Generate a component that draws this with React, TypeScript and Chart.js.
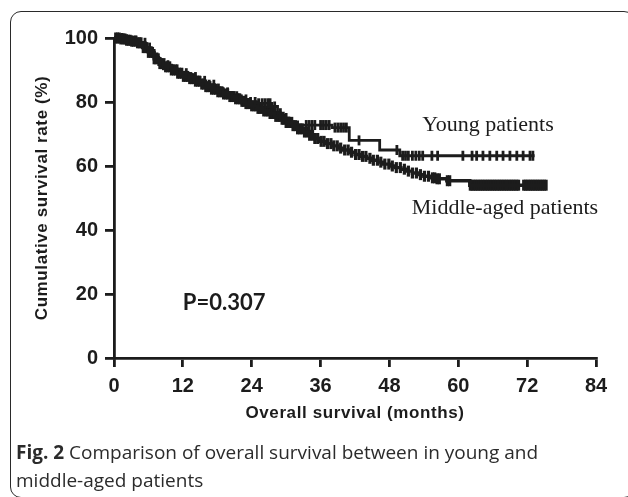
import React, { useEffect, useRef } from "react";
import { Chart, registerables } from "chart.js";

Chart.register(...registerables);

// Kaplan-Meier step events: time (months) and cumulative survival (%)
const youngTimes = [0, 1.5, 3, 4.5, 5.5, 6.5, 7.5, 8.5, 10, 11.5, 13, 14.5, 16, 17.5, 19, 20.5, 22, 23.5, 25, 27.5, 28.5, 29.5, 30.5, 32, 38, 41, 46.3, 49.8, 73.3];
const youngSurv = [100, 99.6, 99.2, 98.5, 97, 95, 92.8, 91.5, 90.2, 89, 87.8, 86.6, 85.4, 84.2, 83, 81.8, 80.8, 80, 79.6, 78.6, 76.5, 75, 73.8, 72.8, 72, 68, 65, 63.2, 63.2];
const youngCensored = [0.6, 1.4, 2.2, 3.0, 3.8, 4.6, 5.4, 6.2, 7.0, 7.8, 8.6, 9.4, 10.2, 11.0, 11.8, 12.6, 13.4, 14.2, 15.0, 15.8, 16.6, 17.4, 18.2, 19.0, 19.8, 20.6, 21.4, 22.2, 23.0, 23.8, 24.6, 25.2, 25.8, 26.3, 26.8, 27.2, 28.0, 29.0, 30.0, 31.0, 33.5, 34.0, 34.5, 35.0, 36.0, 36.5, 37.0, 37.5, 38.5, 39.0, 39.5, 40.0, 40.5, 42.7, 49.3, 50.3, 50.8, 51.3, 52.0, 52.6, 53.2, 53.8, 55.4, 56.4, 60.8, 62.4, 63.2, 64.3, 65.5, 66.7, 67.8, 69.0, 70.2, 71.3, 72.5, 73.0];

const middleTimes = [0, 1, 2, 3, 4, 5, 6, 7, 8, 9, 10, 11, 12, 13, 14, 15, 16, 17, 18, 19, 20, 21, 22, 23, 24, 25, 26, 27, 28, 29, 30, 31, 32, 33, 34, 35, 36, 37, 38, 39, 40, 41, 42, 43, 44, 45, 46, 47, 48, 49, 50, 51, 52, 53, 54, 55, 56, 58, 62, 75.3];
const middleSurv = [100, 99.7, 99.3, 99, 98.5, 97, 95.5, 93.5, 92, 91, 90, 89, 88, 87.3, 86.5, 85.6, 84.8, 84, 83.2, 82.5, 81.7, 81, 80.2, 79.5, 78.8, 78, 77.2, 76.4, 75.5, 74.6, 73.6, 72.6, 71.6, 70.6, 69.6, 68.6, 67.7, 67, 66.3, 65.6, 65, 64.3, 63.6, 63, 62.4, 61.8, 61.2, 60.6, 60, 59.5, 59, 58.4, 57.8, 57.3, 56.8, 56.3, 56, 55.4, 54, 54];
const middleCensored = [0.3, 0.6, 0.9, 1.2, 1.6, 1.9, 2.2, 2.5, 2.8, 3.1, 3.4, 3.8, 4.1, 4.4, 4.7, 5.1, 5.4, 5.7, 6.0, 6.4, 6.7, 7.0, 7.3, 7.7, 8.0, 8.3, 8.7, 9.0, 9.3, 9.7, 10.0, 10.4, 10.7, 11.1, 11.4, 11.8, 12.1, 12.5, 12.8, 13.2, 13.5, 13.9, 14.2, 14.6, 14.9, 15.3, 15.6, 16.0, 16.3, 16.7, 17.0, 17.4, 17.7, 18.1, 18.4, 18.8, 19.1, 19.5, 19.8, 20.2, 20.5, 20.9, 21.2, 21.6, 21.9, 22.3, 22.6, 23.0, 23.3, 23.7, 24.0, 24.4, 24.7, 25.1, 25.4, 25.8, 26.1, 26.5, 26.8, 27.2, 27.5, 27.9, 28.2, 28.6, 28.9, 29.3, 29.6, 30.0, 30.4, 30.8, 31.2, 31.6, 32.0, 32.4, 32.8, 33.2, 33.7, 34.1, 34.6, 35.0, 35.5, 36.1, 36.6, 37.2, 37.8, 38.3, 38.9, 39.5, 40.2, 40.8, 41.4, 42.1, 42.7, 43.3, 43.9, 44.6, 45.2, 45.9, 46.5, 47.2, 47.9, 48.5, 49.2, 49.9, 50.6, 51.3, 52.0, 52.7, 53.4, 54.1, 54.8, 55.5, 55.9, 56.3, 56.7, 58.1, 58.5, 62.1, 62.4, 62.7, 63.0, 63.3, 63.6, 63.9, 64.2, 64.5, 64.8, 65.1, 65.4, 65.7, 66.0, 66.3, 66.6, 66.9, 67.2, 67.5, 67.8, 68.1, 68.4, 68.7, 69.0, 69.3, 69.6, 69.9, 70.2, 70.5, 71.4, 71.7, 72.0, 72.3, 72.6, 72.9, 73.2, 73.5, 73.8, 74.1, 74.4, 74.7, 75.0, 75.3];

const xTicks = [0, 12, 24, 36, 48, 60, 72, 84];
const yTicks = [0, 20, 40, 60, 80, 100];

const youngLabel = "Young patients";
const middleLabel = "Middle-aged patients";
const pLabel = "P=0.307";
const xTitle = "Overall survival (months)";
const yTitle = "Cumulative survival rate (%)";

function survAt(times: number[], surv: number[], t: number): number {
  let v = surv[0];
  for (let i = 0; i < times.length; i++) {
    if (times[i] <= t) v = surv[i];
  }
  return v;
}

const INK = "#1c1c1c";

export default function App() {
  const ref = useRef<HTMLCanvasElement | null>(null);

  useEffect(() => {
    if (!ref.current) return;
    const lineData = (t: number[], s: number[]) => t.map((x, i) => ({ x, y: s[i] }));
    const censorData = (c: number[], t: number[], s: number[]) => c.map((x) => ({ x, y: survAt(t, s, x) }));

    const labelsPlugin = {
      id: "labels",
      afterDraw(chart: any) {
        const ctx = chart.ctx;
        const xs = chart.scales.x;
        const ys = chart.scales.y;
        const area = chart.chartArea;
        ctx.save();
        ctx.fillStyle = INK;
        ctx.textBaseline = "middle";
        ctx.textAlign = "left";
        ctx.font = "22px 'Liberation Serif'";
        ctx.fillText(youngLabel, xs.getPixelForValue(53.7), ys.getPixelForValue(72.8));
        ctx.fillText(middleLabel, xs.getPixelForValue(51.9), ys.getPixelForValue(46.9));
        ctx.font = "bold 22px Lato";
        ctx.fillText(pLabel, xs.getPixelForValue(12), ys.getPixelForValue(17.2));
        ctx.textAlign = "center";
        ctx.font = "bold 17px 'Liberation Sans'";
        (ctx as any).letterSpacing = "0.6px";
        ctx.fillText(xTitle, (area.left + area.right) / 2, 413);
        ctx.translate(42, (area.top + area.bottom) / 2);
        ctx.rotate(-Math.PI / 2);
        ctx.fillText(yTitle, 0, 0);
        ctx.restore();
      },
    };

    const axisCommon = {
      grid: { drawOnChartArea: false, drawTicks: true, tickLength: 9, color: INK, lineWidth: 2.8 },
      border: { display: true, color: INK, width: 2.8 },
    };
    const tickFont = { family: "'Liberation Sans'", weight: "bold", size: 20 };

    const chart = new Chart(ref.current, {
      type: "line",
      data: {
        datasets: [
          { data: lineData(youngTimes, youngSurv), stepped: true, borderColor: INK, borderWidth: 2.8, pointRadius: 0, fill: false, clip: 12 } as any,
          { data: lineData(middleTimes, middleSurv), stepped: true, borderColor: INK, borderWidth: 3.4, pointRadius: 0, fill: false, clip: 12 } as any,
          { data: censorData(youngCensored, youngTimes, youngSurv), showLine: false, pointStyle: "line", pointRotation: 90, pointRadius: 5, pointBorderWidth: 2.8, pointBorderColor: INK, borderColor: INK, clip: 12 } as any,
          { data: censorData(middleCensored, middleTimes, middleSurv), showLine: false, pointStyle: "line", pointRotation: 90, pointRadius: 5.5, pointBorderWidth: 3.2, pointBorderColor: INK, borderColor: INK, clip: 12 } as any,
        ],
      },
      options: {
        responsive: false,
        animation: false,
        layout: { padding: { left: 0, top: 38, right: 32, bottom: 0 } },
        plugins: { legend: { display: false }, tooltip: { enabled: false } },
        scales: {
          x: {
            type: "linear",
            min: 0,
            max: 84,
            afterBuildTicks: (s: any) => { s.ticks = xTicks.map((v) => ({ value: v })); },
            afterFit: (s: any) => { s.height = 139; },
            ticks: { font: tickFont, color: INK, padding: 7, maxRotation: 0 },
            ...axisCommon,
          },
          y: {
            type: "linear",
            min: 0,
            max: 100,
            afterBuildTicks: (s: any) => { s.ticks = yTicks.map((v) => ({ value: v })); },
            afterFit: (s: any) => { s.width = 114; },
            ticks: { font: tickFont, color: INK, padding: 7 },
            ...axisCommon,
          },
        } as any,
      },
      plugins: [labelsPlugin],
    });
    return () => chart.destroy();
  }, []);

  return (
    <div style={{ position: "absolute", left: 0, top: 0, width: 628, height: 497, overflow: "hidden", background: "#fff" }}>
      <div
        style={{
          position: "absolute",
          left: 10,
          top: 11,
          width: 625,
          height: 487,
          boxSizing: "border-box",
          border: "1.5px solid #2a2a2a",
          borderRadius: 11,
        }}
      />
      <canvas ref={ref} width={628} height={497} style={{ position: "absolute", left: 0, top: 0, width: 628, height: 497 }} />
      <div
        style={{
          position: "absolute",
          left: 16,
          top: 438,
          width: 600,
          fontFamily: "'Open Sans'",
          fontSize: 19,
          lineHeight: "28px",
          color: "#2b2b2b",
          whiteSpace: "nowrap",
        }}
      >
        <b>Fig. 2</b> Comparison of overall survival between in young and
        <br />
        middle-aged patients
      </div>
    </div>
  );
}
